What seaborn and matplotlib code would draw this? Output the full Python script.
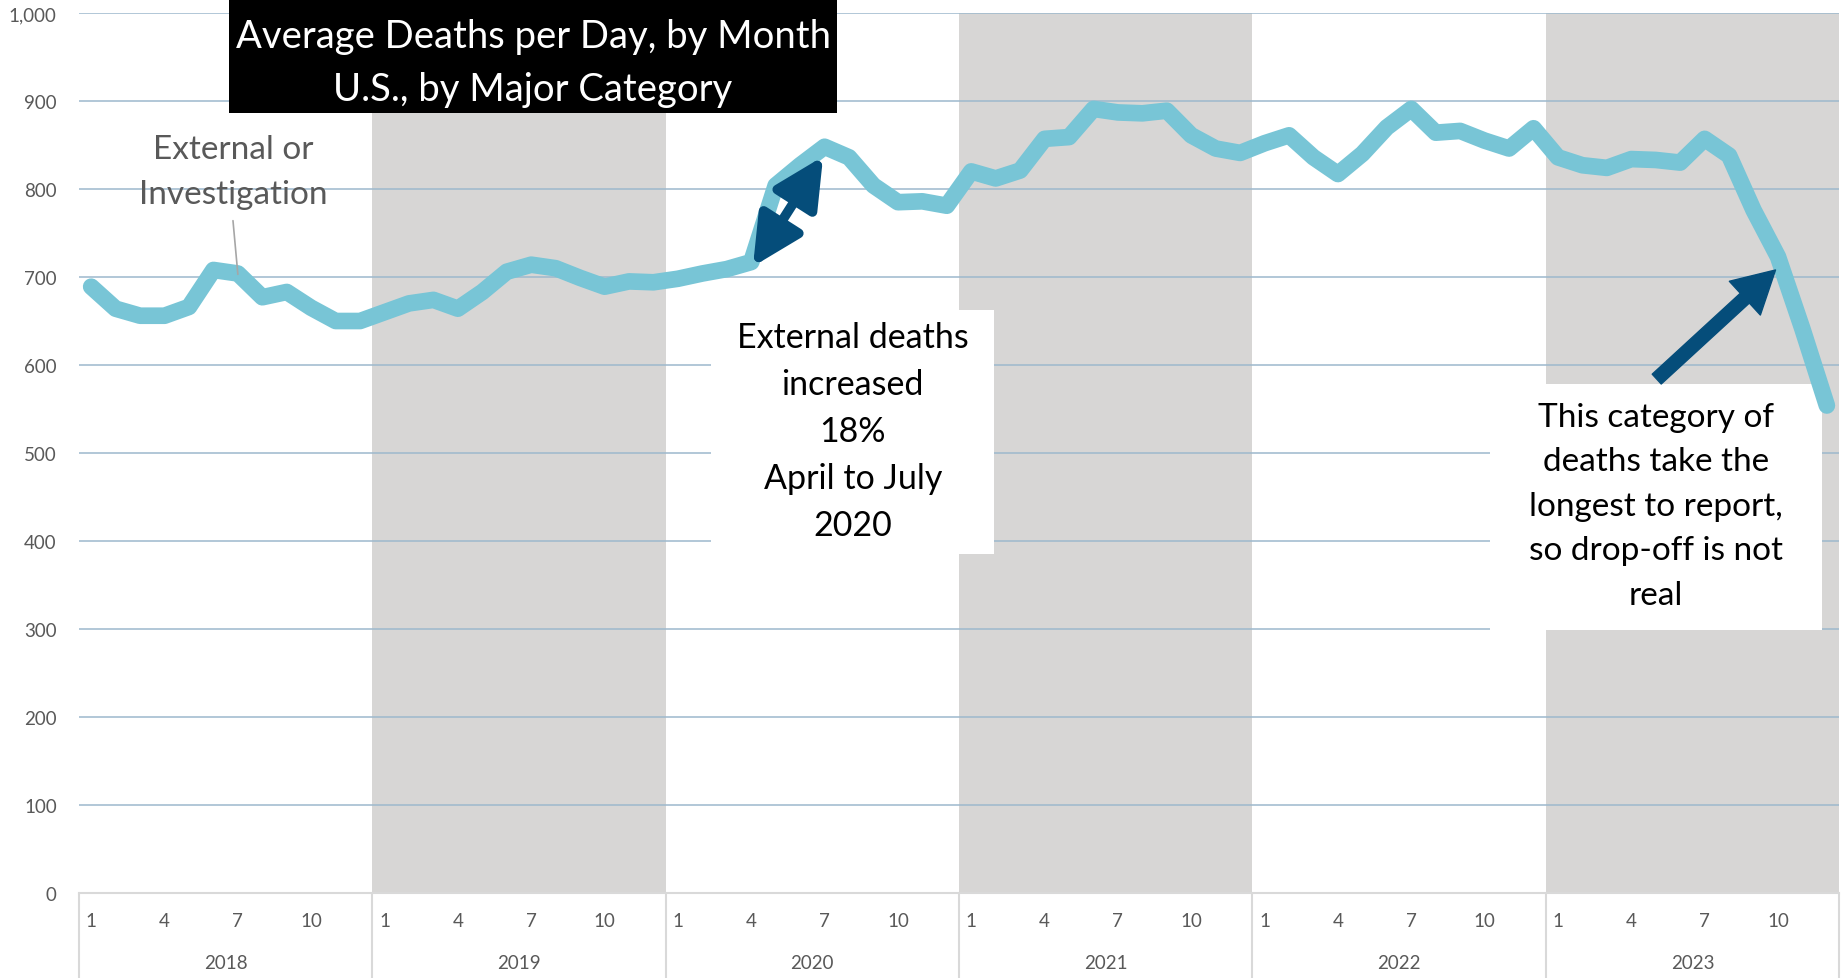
import matplotlib
matplotlib.use("Agg")
import matplotlib.pyplot as plt
from matplotlib.patches import Rectangle
import seaborn as sns
import pandas as pd

# values (average deaths per day, monthly, 2018-2023)
years = [2018, 2019, 2020, 2021, 2022, 2023]
shaded_years = [2019, 2021, 2023]
month_labels = [1, 4, 7, 10]
deaths = [
    689, 664, 656, 656, 666, 708, 704, 677, 683, 665, 650, 650,
    660, 670, 674, 664, 683, 706, 714, 710, 699, 689, 695, 694,
    698, 704, 709, 717, 804, 827, 848, 836, 804, 785, 786, 781,
    820, 812, 821, 857, 859, 891, 887, 886, 889, 861, 846, 841,
    852, 861, 836, 817, 840, 870, 891, 864, 866, 855, 846, 869,
    836, 827, 824, 834, 833, 830, 857, 838, 776, 723, 641, 554,
]
y_ticks = [0, 100, 200, 300, 400, 500, 600, 700, 800, 900, 1000]

title_text = "Average Deaths per Day, by Month\nU.S., by Major Category"
series_label = "External or\nInvestigation"
note_2020 = "External deaths\nincreased\n18%\nApril to July\n2020"
note_2023 = "This category of\ndeaths take the\nlongest to report,\nso drop-off is not\nreal"

df = pd.DataFrame({"idx": range(len(deaths)), "deaths": deaths})

sns.set_theme(style="white")
plt.rcParams["font.family"] = ["Lato", "DejaVu Sans"]

LINE = "#78C5D6"
GRID = "#9DB8CD"
SHADE = "#D7D6D5"
SEP = "#D9D9D9"
ARROW = "#054D7A"
TXT = "#595959"

fig = plt.figure(figsize=(18.45, 9.79), dpi=100)
ax = fig.add_axes([0.0428, 0.0868, 0.954, 0.8989])

n = len(deaths)
ax.set_xlim(-0.5, n - 0.5)
ax.set_ylim(0, 1000)

# alternating year shading
for yr in shaded_years:
    k = years.index(yr)
    ax.axvspan(12 * k - 0.5, 12 * k + 11.5, color=SHADE, lw=0, zorder=0.2)

ax.set_axisbelow(True)
ax.yaxis.grid(True, color=GRID, lw=1.1)
ax.set_yticks(y_ticks)
ax.set_yticklabels([f"{v:,}" for v in y_ticks])
ax.tick_params(axis="y", length=0, pad=16, labelsize=13.5, labelcolor=TXT)
ax.set_xticks([])
for s in ["top", "right", "left"]:
    ax.spines[s].set_visible(False)
ax.spines["bottom"].set_color(SEP)
ax.spines["bottom"].set_linewidth(1.5)

# white note boxes (cover grid + shading, sit under the line)
ax.add_patch(Rectangle((25.36, 385), 11.57, 277.5, fc="white", ec="none", zorder=1.5))
ax.add_patch(Rectangle((57.22, 299), 13.58, 279, fc="white", ec="none", zorder=1.5))

sns.lineplot(data=df, x="idx", y="deaths", ax=ax, color=LINE, lw=12,
             zorder=3, legend=False)
for ln in ax.lines:
    ln.set_solid_joinstyle("round")
    ln.set_solid_capstyle("round")
ax.set_xlabel("")
ax.set_ylabel("")

# category axis: month and year labels, year separators
trans = ax.get_xaxis_transform()
for k, yr in enumerate(years):
    for m in month_labels:
        ax.text(12 * k + m - 1, -0.031, str(m), transform=trans, ha="center",
                va="center", fontsize=13.5, color=TXT)
    ax.text(12 * k + 5.5, -0.079, str(yr), transform=trans, ha="center",
            va="center", fontsize=13.5, color=TXT)
for k in range(len(years) + 1):
    ax.plot([12 * k - 0.5, 12 * k - 0.5], [0, -0.1], transform=trans,
            color=SEP, lw=1.5, clip_on=False)

# series label with leader line
ax.text(5.8, 820, series_label, ha="center", va="center", fontsize=24,
        color=TXT, linespacing=1.62, zorder=4)
ax.plot([5.8, 6.0], [764, 703], color="#A6A6A6", lw=1.2, zorder=4)

# notes
ax.text(31.15, 525, note_2020, ha="center", va="center", fontsize=24.5,
        color="black", linespacing=1.57, zorder=4)
ax.text(64.0, 440, note_2023, ha="center", va="center", fontsize=24,
        color="black", linespacing=1.6, zorder=4)

ax.annotate("", xy=(29.94, 837), xytext=(27.07, 712),
            arrowprops=dict(arrowstyle="<|-|>,head_length=1.0,head_width=0.5",
                            lw=7, color=ARROW, mutation_scale=30,
                            shrinkA=0, shrinkB=0), zorder=5)
ax.annotate("", xy=(68.9, 708), xytext=(64.04, 584),
            arrowprops=dict(arrowstyle="simple,head_length=1.0,head_width=1.1,tail_width=0.32",
                            color=ARROW, mutation_scale=30,
                            shrinkA=0, shrinkB=0), zorder=5)

# title block
fig.patches.append(Rectangle((0.1241, 0.8836), 0.3295, 0.1164, transform=fig.transFigure,
                             fc="black", ec="none", zorder=10))
fig.text(0.2889, 0.9355, title_text, ha="center", va="center", color="white",
         fontsize=27.5, linespacing=1.58, zorder=11)

fig.savefig("out.png", dpi=100)
